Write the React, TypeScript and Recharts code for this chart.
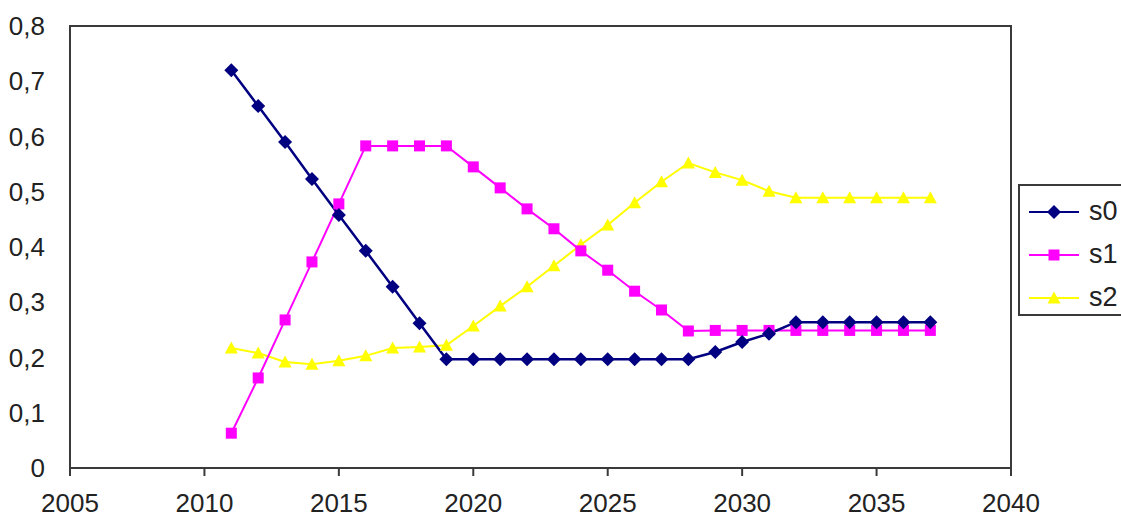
import React from "react";
import {
  LineChart,
  Line,
  XAxis,
  YAxis,
  Legend,
  ReferenceArea,
} from "recharts";

const years = [
  2011, 2012, 2013, 2014, 2015, 2016, 2017, 2018, 2019, 2020, 2021, 2022, 2023, 2024,
  2025, 2026, 2027, 2028, 2029, 2030, 2031, 2032, 2033, 2034, 2035, 2036, 2037,
];
const s0 = [
  0.72, 0.655, 0.59, 0.523, 0.458, 0.393, 0.328, 0.262, 0.197, 0.197, 0.197, 0.197,
  0.197, 0.197, 0.197, 0.197, 0.197, 0.197, 0.21, 0.228, 0.243, 0.264, 0.264, 0.264,
  0.264, 0.264, 0.264,
];
const s1 = [
  0.063, 0.163, 0.268, 0.373, 0.478, 0.583, 0.583, 0.583, 0.583, 0.545, 0.507, 0.469,
  0.433, 0.393, 0.358, 0.32, 0.286, 0.248, 0.249, 0.249, 0.249, 0.249, 0.249, 0.249,
  0.249, 0.249, 0.249,
];
const s2 = [
  0.217, 0.208, 0.192, 0.188, 0.194, 0.203, 0.217, 0.219, 0.222, 0.257, 0.293, 0.328,
  0.366, 0.404, 0.44, 0.48, 0.518, 0.552, 0.535, 0.521, 0.501, 0.489, 0.489, 0.489,
  0.489, 0.489, 0.489,
];
const xTicks = [2005, 2010, 2015, 2020, 2025, 2030, 2035, 2040];
const yTicks = [0, 0.1, 0.2, 0.3, 0.4, 0.5, 0.6, 0.7, 0.8];

const data = years.map((year, i) => ({ year, s0: s0[i], s1: s1[i], s2: s2[i] }));

const colors = { s0: "#000080", s1: "#ff00ff", s2: "#ffff00" };
const axisColor = "#3a3a3a";
const font = "'Liberation Sans', Arial, sans-serif";

const Diamond = ({ cx, cy, fill, r = 7 }: any) =>
  cx == null ? null : (
    <polygon
      points={`${cx},${cy - r} ${cx + r},${cy} ${cx},${cy + r} ${cx - r},${cy}`}
      fill={fill}
    />
  );

const Square = ({ cx, cy, fill, r = 5.5 }: any) =>
  cx == null ? null : <rect x={cx - r} y={cy - r} width={r * 2} height={r * 2} fill={fill} />;

const Triangle = ({ cx, cy, fill, r = 6.5 }: any) =>
  cx == null ? null : (
    <polygon
      points={`${cx},${cy - r} ${cx + r},${cy + r - 1} ${cx - r},${cy + r - 1}`}
      fill={fill}
    />
  );

const legendItems = [
  { key: "s0", Marker: Diamond },
  { key: "s1", Marker: Square },
  { key: "s2", Marker: Triangle },
];

const LegendBox = () => (
  <div
    style={{
      width: 104,
      height: 132,
      boxSizing: "border-box",
      border: `2px solid ${axisColor}`,
      borderRight: "none",
      background: "#fff",
      paddingTop: 4,
    }}
  >
    {legendItems.map(({ key, Marker }) => (
      <div key={key} style={{ display: "flex", alignItems: "center", height: 43 }}>
        <svg width={60} height={20} style={{ marginLeft: 9 }}>
          <line x1={0} y1={10} x2={50} y2={10} stroke={(colors as any)[key]} strokeWidth={2} />
          <Marker cx={25} cy={10} fill={(colors as any)[key]} />
        </svg>
        <span style={{ fontFamily: font, fontSize: 27, color: "#222" }}>{key}</span>
      </div>
    ))}
  </div>
);

const fmt = (v: number) => (v === 0 ? "0" : String(Number(v.toFixed(1))).replace(".", ","));

export default function App() {
  return (
    <div style={{ position: "fixed", left: 0, top: 0, background: "#fff" }}>
      <LineChart
        width={1121}
        height={519}
        data={data}
        margin={{ top: 26, right: 110, bottom: 0, left: 0 }}
      >
        <XAxis
          dataKey="year"
          type="number"
          domain={[2005, 2040]}
          ticks={xTicks}
          height={51}
          tickSize={8}
          tickMargin={18}
          axisLine={{ stroke: axisColor, strokeWidth: 2 }}
          tickLine={{ stroke: axisColor, strokeWidth: 2 }}
          tick={{ fill: "#222", fontSize: 26, fontFamily: font }}
          interval={0}
        />
        <YAxis
          type="number"
          domain={[0, 0.8]}
          ticks={yTicks}
          width={70}
          tickLine={false}
          tickMargin={19}
          axisLine={{ stroke: axisColor, strokeWidth: 2 }}
          tick={{ fill: "#222", fontSize: 26, fontFamily: font }}
          tickFormatter={fmt}
          interval={0}
        />
        <ReferenceArea
          x1={2005}
          x2={2040}
          y1={0}
          y2={0.8}
          fill="none"
          fillOpacity={0}
          stroke={axisColor}
          strokeWidth={2}
        />
        <Line
          dataKey="s2"
          stroke={colors.s2}
          strokeWidth={2}
          dot={(p: any) => <Triangle key={`t${p.index}`} cx={p.cx} cy={p.cy} fill={colors.s2} />}
          isAnimationActive={false}
        />
        <Line
          dataKey="s1"
          stroke={colors.s1}
          strokeWidth={2}
          dot={(p: any) => <Square key={`q${p.index}`} cx={p.cx} cy={p.cy} fill={colors.s1} />}
          isAnimationActive={false}
        />
        <Line
          dataKey="s0"
          stroke={colors.s0}
          strokeWidth={2.5}
          dot={(p: any) => <Diamond key={`d${p.index}`} cx={p.cx} cy={p.cy} fill={colors.s0} />}
          isAnimationActive={false}
        />
        <Legend
          layout="vertical"
          align="center"
          verticalAlign="middle"
          content={() => <LegendBox />}
          wrapperStyle={{ position: "absolute", left: 1018, top: 184, width: 104 }}
        />
      </LineChart>
    </div>
  );
}
